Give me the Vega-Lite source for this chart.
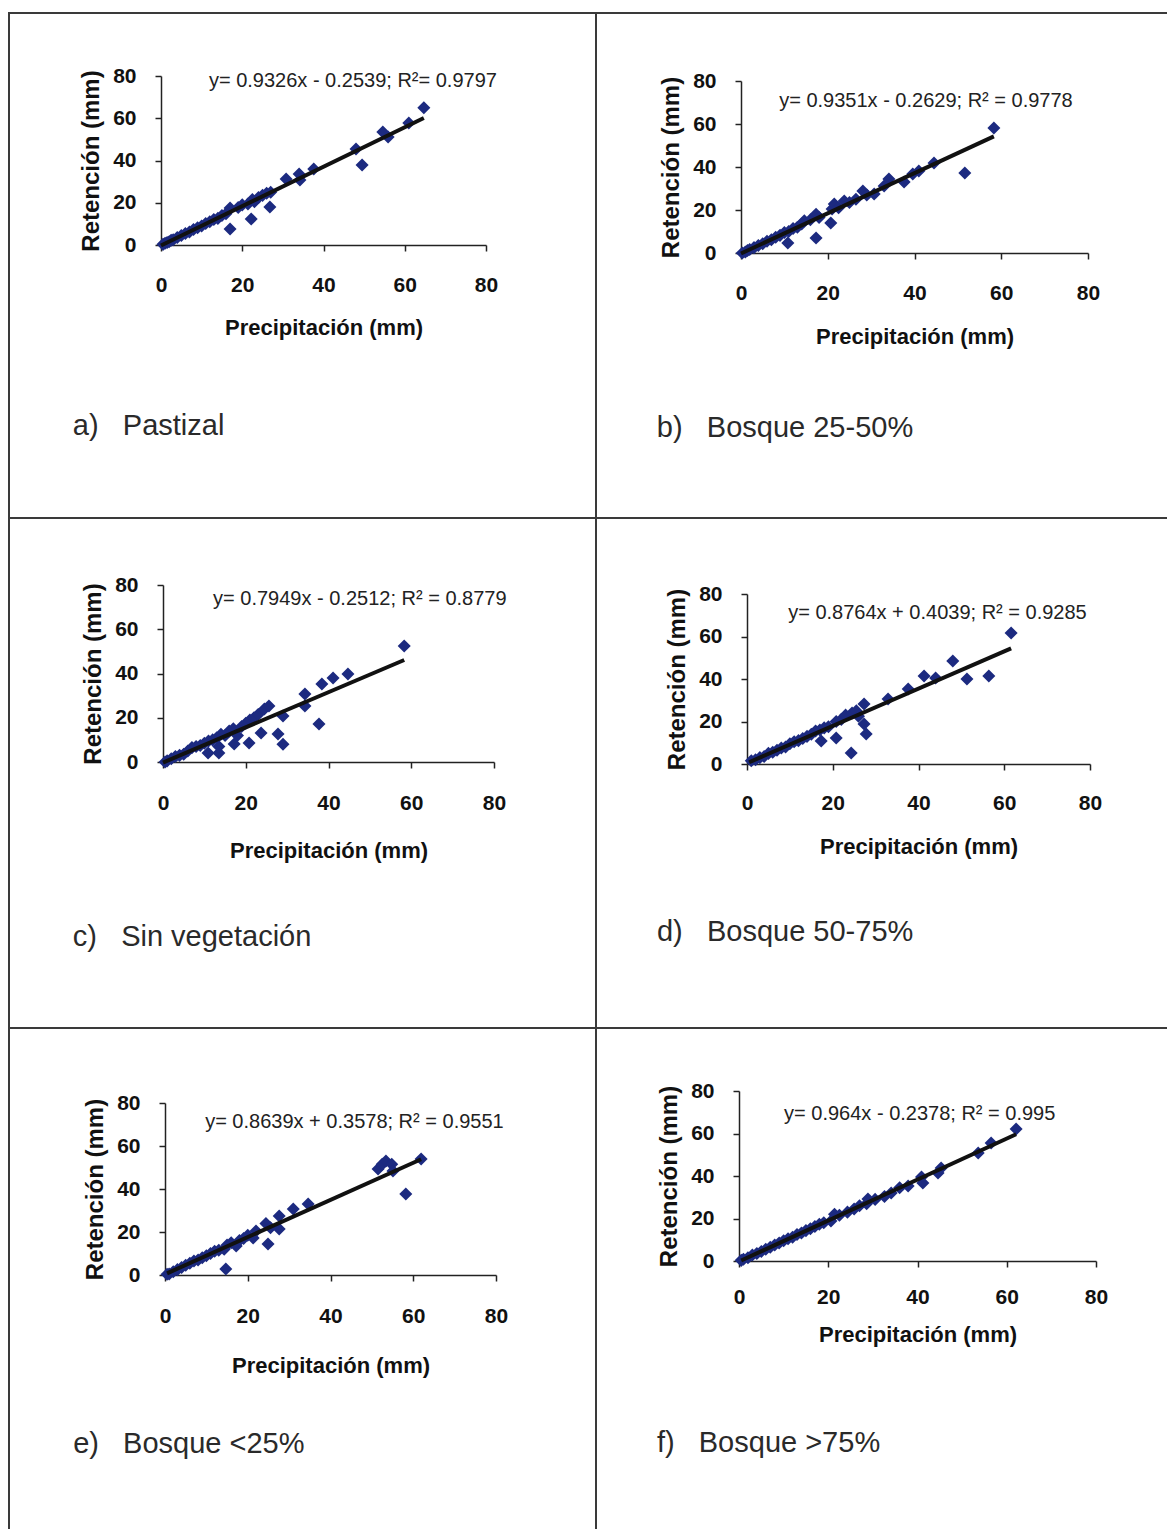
{
  "$schema": "https://vega.github.io/schema/vega-lite/v6.json",
  "padding": {"left": 8, "top": 12, "right": 0, "bottom": 0},
  "background": "white",
  "columns": 2,
  "spacing": 0,
  "bounds": "flush",
  "config": {
    "view": {"stroke": "#3a3a3a", "strokeWidth": 2},
    "axis": {"grid": false, "domainColor": "#222", "tickColor": "#222", "domainWidth": 1.5, "tickWidth": 1.5, "tickSize": 6,
      "labelFont": "Liberation Sans", "labelFontWeight": "bold", "labelFontSize": 21, "labelColor": "#111",
      "titleFont": "Liberation Sans", "titleFontWeight": "bold", "titleFontSize": 22, "titleColor": "#111",
      "labelFlush": false, "labelOverlap": false},
    "axisY": {"titleFontSize": 24},
    "point": {"shape": "diamond", "filled": true, "size": 170, "color": "#1c2a80", "opacity": 1},
    "line": {"color": "#111", "strokeWidth": 4},
    "text": {"font": "Liberation Sans", "color": "#222"}
  },
  "concat": [
    {
      "width": 587, "height": 505,
      "layer": [
        {"data": {"values": [
          {"P": 0.5, "R": 0.3}, {"P": 1, "R": 0.8}, {"P": 1.5, "R": 1.2}, {"P": 2, "R": 1.5}, {"P": 2.5, "R": 2.2}, {"P": 3, "R": 2.5},
          {"P": 4, "R": 3.6}, {"P": 5, "R": 4.5}, {"P": 6, "R": 5.4}, {"P": 7, "R": 6.2}, {"P": 8, "R": 7.3}, {"P": 9, "R": 8.2},
          {"P": 10, "R": 9}, {"P": 11, "R": 10.2}, {"P": 12, "R": 11}, {"P": 13, "R": 12.1}, {"P": 14, "R": 12.6}, {"P": 15, "R": 14},
          {"P": 16, "R": 14.8}, {"P": 17, "R": 17.5}, {"P": 17, "R": 7.6}, {"P": 19, "R": 17.8}, {"P": 20, "R": 19}, {"P": 21.4, "R": 19.4},
          {"P": 22.2, "R": 12.3}, {"P": 22.5, "R": 21.5}, {"P": 23, "R": 20.5}, {"P": 24, "R": 22.5}, {"P": 25, "R": 23.5}, {"P": 26, "R": 24.5},
          {"P": 26.8, "R": 18}, {"P": 27, "R": 25}, {"P": 30.8, "R": 31.2}, {"P": 34, "R": 33.6}, {"P": 34.2, "R": 30.8}, {"P": 37.6, "R": 36},
          {"P": 48, "R": 45.4}, {"P": 49.5, "R": 37.9}, {"P": 54.6, "R": 53.5}, {"P": 55.9, "R": 51.1}, {"P": 61, "R": 57.8}, {"P": 64.7, "R": 65}
        ]}, "mark": {"type": "point"},
          "encoding": {
            "x": {"field": "P", "type": "quantitative", "scale": {"domain": [0, 80], "range": [152, 477], "nice": false, "zero": false},
              "axis": {"title": "Precipitación (mm)", "values": [0, 20, 40, 60, 80], "offset": -273, "labelPadding": 23, "titlePadding": 22}},
            "y": {"field": "R", "type": "quantitative", "scale": {"domain": [0, 80], "range": [232, 63], "nice": false, "zero": false},
              "axis": {"title": "Retención (mm)", "values": [0, 20, 40, 60, 80], "offset": -152, "labelPadding": 19, "titlePadding": 9}}
          }},
        {"data": {"values": [{"P": 0, "R": -0.25}, {"P": 64.7, "R": 60.09}]}, "mark": {"type": "line"},
          "encoding": {"x": {"field": "P", "type": "quantitative", "title": "Precipitación (mm)"}, "y": {"field": "R", "type": "quantitative", "title": "Retención (mm)"}}},
        {"data": {"values": [{"eq": "y= 0.9326x - 0.2539; R²= 0.9797"}]},
          "mark": {"type": "text", "align": "left", "baseline": "middle", "fontSize": 20},
          "encoding": {"x": {"datum": 11.8, "type": "quantitative"}, "y": {"datum": 77.6, "type": "quantitative"}, "text": {"field": "eq"}}},
        {"data": {"values": [{"lab": "a)\u00a0\u00a0\u00a0Pastizal"}]},
          "mark": {"type": "text", "align": "left", "baseline": "middle", "fontSize": 29, "color": "#2a2a2a"},
          "encoding": {"x": {"datum": -21.7, "type": "quantitative"}, "y": {"datum": -85.7, "type": "quantitative"}, "text": {"field": "lab"}}}
      ]
    },
    {
      "width": 572, "height": 505,
      "layer": [
        {"data": {"values": [
          {"P": 0.3, "R": 0}, {"P": 1, "R": 0.5}, {"P": 1.5, "R": 1.2}, {"P": 2, "R": 1.6}, {"P": 3, "R": 2.5}, {"P": 4, "R": 3.5},
          {"P": 5, "R": 4.3}, {"P": 6, "R": 5.5}, {"P": 7, "R": 6.2}, {"P": 8, "R": 7.3}, {"P": 9, "R": 8.2}, {"P": 10, "R": 9.5},
          {"P": 10.8, "R": 4.7}, {"P": 11, "R": 10}, {"P": 12, "R": 11.4}, {"P": 13, "R": 12}, {"P": 14, "R": 13.5}, {"P": 14.6, "R": 15},
          {"P": 16, "R": 15.5}, {"P": 17.3, "R": 18}, {"P": 17.3, "R": 7}, {"P": 18, "R": 16.5}, {"P": 20.7, "R": 14}, {"P": 21, "R": 20.5},
          {"P": 21.5, "R": 22.8}, {"P": 22.5, "R": 21}, {"P": 23.8, "R": 24.2}, {"P": 25, "R": 23.5}, {"P": 26.5, "R": 25}, {"P": 28.1, "R": 28.8},
          {"P": 29, "R": 27}, {"P": 30.7, "R": 27.4}, {"P": 33, "R": 31.2}, {"P": 34.1, "R": 34.4}, {"P": 37.6, "R": 33}, {"P": 39.6, "R": 36.7},
          {"P": 41, "R": 38.1}, {"P": 44.5, "R": 41.9}, {"P": 51.6, "R": 37.2}, {"P": 58.3, "R": 58.1}
        ]}, "mark": {"type": "point"},
          "encoding": {
            "x": {"field": "P", "type": "quantitative", "scale": {"domain": [0, 80], "range": [145, 492], "nice": false, "zero": false},
              "axis": {"title": "Precipitación (mm)", "values": [0, 20, 40, 60, 80], "offset": -265, "labelPadding": 23, "titlePadding": 23}},
            "y": {"field": "R", "type": "quantitative", "scale": {"domain": [0, 80], "range": [240, 68], "nice": false, "zero": false},
              "axis": {"title": "Retención (mm)", "values": [0, 20, 40, 60, 80], "offset": -145, "labelPadding": 19, "titlePadding": 9}}
          }},
        {"data": {"values": [{"P": 0, "R": -0.26}, {"P": 58.3, "R": 54.25}]}, "mark": {"type": "line"},
          "encoding": {"x": {"field": "P", "type": "quantitative", "title": "Precipitación (mm)"}, "y": {"field": "R", "type": "quantitative", "title": "Retención (mm)"}}},
        {"data": {"values": [{"eq": "y= 0.9351x - 0.2629; R² = 0.9778"}]},
          "mark": {"type": "text", "align": "left", "baseline": "middle", "fontSize": 20},
          "encoding": {"x": {"datum": 8.8, "type": "quantitative"}, "y": {"datum": 70.7, "type": "quantitative"}, "text": {"field": "eq"}}},
        {"data": {"values": [{"lab": "b)\u00a0\u00a0\u00a0Bosque 25-50%"}]},
          "mark": {"type": "text", "align": "left", "baseline": "middle", "fontSize": 29, "color": "#2a2a2a"},
          "encoding": {"x": {"datum": -19.4, "type": "quantitative"}, "y": {"datum": -81.4, "type": "quantitative"}, "text": {"field": "lab"}}}
      ]
    },
    {
      "width": 587, "height": 510,
      "layer": [
        {"data": {"values": [
          {"P": 0.5, "R": 0}, {"P": 1, "R": 0.5}, {"P": 2, "R": 1.5}, {"P": 3, "R": 2.5}, {"P": 4, "R": 3}, {"P": 5, "R": 3.5},
          {"P": 6, "R": 5}, {"P": 7, "R": 6.5}, {"P": 8, "R": 7}, {"P": 9, "R": 7.5}, {"P": 10, "R": 8.5}, {"P": 10.9, "R": 4.1},
          {"P": 11, "R": 9.5}, {"P": 12, "R": 10}, {"P": 13, "R": 11}, {"P": 13.5, "R": 4.1}, {"P": 13.5, "R": 7}, {"P": 14, "R": 12.5},
          {"P": 15, "R": 12}, {"P": 16, "R": 14}, {"P": 17, "R": 15}, {"P": 17.2, "R": 8.1}, {"P": 18, "R": 12}, {"P": 19, "R": 16},
          {"P": 20, "R": 17.5}, {"P": 20.8, "R": 8.6}, {"P": 21, "R": 19}, {"P": 22, "R": 20}, {"P": 23, "R": 21.5}, {"P": 23.7, "R": 13.1},
          {"P": 24.5, "R": 24}, {"P": 25.6, "R": 25.3}, {"P": 27.8, "R": 12.7}, {"P": 29, "R": 20.8}, {"P": 29, "R": 8}, {"P": 34.3, "R": 30.7},
          {"P": 34.3, "R": 25.3}, {"P": 37.7, "R": 17.2}, {"P": 38.4, "R": 35.3}, {"P": 41.1, "R": 38}, {"P": 44.7, "R": 39.8}, {"P": 58.3, "R": 52.4}
        ]}, "mark": {"type": "point"},
          "encoding": {
            "x": {"field": "P", "type": "quantitative", "scale": {"domain": [0, 80], "range": [154, 485], "nice": false, "zero": false},
              "axis": {"title": "Precipitación (mm)", "values": [0, 20, 40, 60, 80], "offset": -266, "labelPadding": 24, "titlePadding": 27}},
            "y": {"field": "R", "type": "quantitative", "scale": {"domain": [0, 80], "range": [244, 67], "nice": false, "zero": false},
              "axis": {"title": "Retención (mm)", "values": [0, 20, 40, 60, 80], "offset": -154, "labelPadding": 19, "titlePadding": 9}}
          }},
        {"data": {"values": [{"P": 0, "R": -0.25}, {"P": 58.3, "R": 46.09}]}, "mark": {"type": "line"},
          "encoding": {"x": {"field": "P", "type": "quantitative", "title": "Precipitación (mm)"}, "y": {"field": "R", "type": "quantitative", "title": "Retención (mm)"}}},
        {"data": {"values": [{"eq": "y= 0.7949x - 0.2512; R² = 0.8779"}]},
          "mark": {"type": "text", "align": "left", "baseline": "middle", "fontSize": 20},
          "encoding": {"x": {"datum": 12.1, "type": "quantitative"}, "y": {"datum": 73.7, "type": "quantitative"}, "text": {"field": "eq"}}},
        {"data": {"values": [{"lab": "c)\u00a0\u00a0\u00a0Sin vegetación"}]},
          "mark": {"type": "text", "align": "left", "baseline": "middle", "fontSize": 29, "color": "#2a2a2a"},
          "encoding": {"x": {"datum": -21.8, "type": "quantitative"}, "y": {"datum": -79.1, "type": "quantitative"}, "text": {"field": "lab"}}}
      ]
    },
    {
      "width": 572, "height": 510,
      "layer": [
        {"data": {"values": [
          {"P": 1, "R": 1.5}, {"P": 2, "R": 2}, {"P": 3, "R": 3}, {"P": 4, "R": 3.5}, {"P": 5, "R": 5}, {"P": 6, "R": 5.5},
          {"P": 7, "R": 6.5}, {"P": 8, "R": 7.5}, {"P": 9, "R": 8}, {"P": 10, "R": 9.5}, {"P": 11, "R": 10.5}, {"P": 12, "R": 11},
          {"P": 13, "R": 12}, {"P": 14, "R": 13}, {"P": 15, "R": 14}, {"P": 16, "R": 15.5}, {"P": 17, "R": 16}, {"P": 17.3, "R": 10.8},
          {"P": 18, "R": 17}, {"P": 19, "R": 17.5}, {"P": 20.8, "R": 20}, {"P": 20.8, "R": 12.2}, {"P": 22, "R": 21}, {"P": 23, "R": 23},
          {"P": 24.3, "R": 5.2}, {"P": 24.5, "R": 24}, {"P": 25.5, "R": 25}, {"P": 26, "R": 22.5}, {"P": 27.3, "R": 28.2}, {"P": 27.3, "R": 18.8},
          {"P": 27.8, "R": 14.1}, {"P": 32.9, "R": 30.6}, {"P": 37.6, "R": 35.3}, {"P": 41.3, "R": 41.4}, {"P": 44, "R": 40.5}, {"P": 48, "R": 48.5},
          {"P": 51.3, "R": 40}, {"P": 56.4, "R": 41.4}, {"P": 61.6, "R": 61.6}
        ]}, "mark": {"type": "point"},
          "encoding": {
            "x": {"field": "P", "type": "quantitative", "scale": {"domain": [0, 80], "range": [151, 494], "nice": false, "zero": false},
              "axis": {"title": "Precipitación (mm)", "values": [0, 20, 40, 60, 80], "offset": -264, "labelPadding": 22, "titlePadding": 23}},
            "y": {"field": "R", "type": "quantitative", "scale": {"domain": [0, 80], "range": [246, 76], "nice": false, "zero": false},
              "axis": {"title": "Retención (mm)", "values": [0, 20, 40, 60, 80], "offset": -151, "labelPadding": 19, "titlePadding": 9}}
          }},
        {"data": {"values": [{"P": 0.5, "R": 0.84}, {"P": 61.6, "R": 54.39}]}, "mark": {"type": "line"},
          "encoding": {"x": {"field": "P", "type": "quantitative", "title": "Precipitación (mm)"}, "y": {"field": "R", "type": "quantitative", "title": "Retención (mm)"}}},
        {"data": {"values": [{"eq": "y= 0.8764x + 0.4039; R² = 0.9285"}]},
          "mark": {"type": "text", "align": "left", "baseline": "middle", "fontSize": 20},
          "encoding": {"x": {"datum": 9.6, "type": "quantitative"}, "y": {"datum": 71.1, "type": "quantitative"}, "text": {"field": "eq"}}},
        {"data": {"values": [{"lab": "d)\u00a0\u00a0\u00a0Bosque 50-75%"}]},
          "mark": {"type": "text", "align": "left", "baseline": "middle", "fontSize": 29, "color": "#2a2a2a"},
          "encoding": {"x": {"datum": -21, "type": "quantitative"}, "y": {"datum": -79.1, "type": "quantitative"}, "text": {"field": "lab"}}}
      ]
    },
    {
      "width": 587, "height": 502,
      "layer": [
        {"data": {"values": [
          {"P": 0.5, "R": 0.3}, {"P": 1, "R": 0.5}, {"P": 2, "R": 1.5}, {"P": 3, "R": 2.5}, {"P": 4, "R": 3.5}, {"P": 5, "R": 4.5},
          {"P": 6, "R": 5.5}, {"P": 7, "R": 6.5}, {"P": 8, "R": 7}, {"P": 9, "R": 8}, {"P": 10, "R": 9}, {"P": 11, "R": 10},
          {"P": 12, "R": 11}, {"P": 13, "R": 11.5}, {"P": 14.3, "R": 12}, {"P": 14.7, "R": 2.8}, {"P": 15, "R": 14}, {"P": 16, "R": 15},
          {"P": 17.2, "R": 13.5}, {"P": 18, "R": 16}, {"P": 19, "R": 17}, {"P": 20, "R": 18.5}, {"P": 21.3, "R": 17.2}, {"P": 22, "R": 20.5},
          {"P": 24.4, "R": 24}, {"P": 24.9, "R": 14.4}, {"P": 25.5, "R": 22}, {"P": 27.6, "R": 27.4}, {"P": 27.6, "R": 21.4}, {"P": 31, "R": 30.7},
          {"P": 34.6, "R": 33}, {"P": 51.5, "R": 49.3}, {"P": 52.5, "R": 51.5}, {"P": 53.4, "R": 53}, {"P": 54.8, "R": 51.5}, {"P": 55.1, "R": 48.4},
          {"P": 58.2, "R": 37.7}, {"P": 61.9, "R": 54}
        ]}, "mark": {"type": "point"},
          "encoding": {
            "x": {"field": "P", "type": "quantitative", "scale": {"domain": [0, 80], "range": [156, 487], "nice": false, "zero": false},
              "axis": {"title": "Precipitación (mm)", "values": [0, 20, 40, 60, 80], "offset": -255, "labelPadding": 24, "titlePadding": 29}},
            "y": {"field": "R", "type": "quantitative", "scale": {"domain": [0, 80], "range": [247, 75], "nice": false, "zero": false},
              "axis": {"title": "Retención (mm)", "values": [0, 20, 40, 60, 80], "offset": -156, "labelPadding": 19, "titlePadding": 9}}
          }},
        {"data": {"values": [{"P": 0.5, "R": 0.79}, {"P": 61.9, "R": 53.83}]}, "mark": {"type": "line"},
          "encoding": {"x": {"field": "P", "type": "quantitative", "title": "Precipitación (mm)"}, "y": {"field": "R", "type": "quantitative", "title": "Retención (mm)"}}},
        {"data": {"values": [{"eq": "y= 0.8639x + 0.3578; R² = 0.9551"}]},
          "mark": {"type": "text", "align": "left", "baseline": "middle", "fontSize": 20},
          "encoding": {"x": {"datum": 9.7, "type": "quantitative"}, "y": {"datum": 71.2, "type": "quantitative"}, "text": {"field": "eq"}}},
        {"data": {"values": [{"lab": "e)\u00a0\u00a0\u00a0Bosque <25%"}]},
          "mark": {"type": "text", "align": "left", "baseline": "middle", "fontSize": 29, "color": "#2a2a2a"},
          "encoding": {"x": {"datum": -22.2, "type": "quantitative"}, "y": {"datum": -78.6, "type": "quantitative"}, "text": {"field": "lab"}}}
      ]
    },
    {
      "width": 572, "height": 502,
      "layer": [
        {"data": {"values": [
          {"P": 0.5, "R": 0.3}, {"P": 1, "R": 0.8}, {"P": 2, "R": 1.5}, {"P": 3, "R": 2.8}, {"P": 4, "R": 3.5}, {"P": 5, "R": 4.5},
          {"P": 6, "R": 5.5}, {"P": 7, "R": 6.5}, {"P": 8, "R": 7.5}, {"P": 9, "R": 8.5}, {"P": 10, "R": 9.5}, {"P": 11, "R": 10.5},
          {"P": 12, "R": 11.2}, {"P": 13, "R": 12.5}, {"P": 14, "R": 13.2}, {"P": 15, "R": 14.3}, {"P": 16, "R": 15.2}, {"P": 17, "R": 16.2},
          {"P": 18, "R": 17.3}, {"P": 19, "R": 18}, {"P": 20.6, "R": 18.8}, {"P": 21.4, "R": 22}, {"P": 22.5, "R": 21.5}, {"P": 24.3, "R": 23},
          {"P": 25.8, "R": 24.5}, {"P": 27, "R": 26}, {"P": 28.6, "R": 27}, {"P": 28.9, "R": 29.2}, {"P": 30.5, "R": 29}, {"P": 32.6, "R": 30.4},
          {"P": 34.1, "R": 32}, {"P": 36, "R": 34.5}, {"P": 37.9, "R": 35.3}, {"P": 40.9, "R": 39.5}, {"P": 41.2, "R": 36.7}, {"P": 44.6, "R": 41.4},
          {"P": 45.3, "R": 43.8}, {"P": 53.6, "R": 50.8}, {"P": 56.5, "R": 55.5}, {"P": 62.1, "R": 62.1}
        ]}, "mark": {"type": "point"},
          "encoding": {
            "x": {"field": "P", "type": "quantitative", "scale": {"domain": [0, 80], "range": [143, 500], "nice": false, "zero": false},
              "axis": {"title": "Precipitación (mm)", "values": [0, 20, 40, 60, 80], "offset": -269, "labelPadding": 19, "titlePadding": 17}},
            "y": {"field": "R", "type": "quantitative", "scale": {"domain": [0, 80], "range": [233, 63], "nice": false, "zero": false},
              "axis": {"title": "Retención (mm)", "values": [0, 20, 40, 60, 80], "offset": -143, "labelPadding": 19, "titlePadding": 9}}
          }},
        {"data": {"values": [{"P": 0.5, "R": 0.24}, {"P": 62.1, "R": 59.63}]}, "mark": {"type": "line"},
          "encoding": {"x": {"field": "P", "type": "quantitative", "title": "Precipitación (mm)"}, "y": {"field": "R", "type": "quantitative", "title": "Retención (mm)"}}},
        {"data": {"values": [{"eq": "y= 0.964x - 0.2378; R² = 0.995"}]},
          "mark": {"type": "text", "align": "left", "baseline": "middle", "fontSize": 20},
          "encoding": {"x": {"datum": 10.1, "type": "quantitative"}, "y": {"datum": 69.2, "type": "quantitative"}, "text": {"field": "eq"}}},
        {"data": {"values": [{"lab": "f)\u00a0\u00a0\u00a0Bosque >75%"}]},
          "mark": {"type": "text", "align": "left", "baseline": "middle", "fontSize": 29, "color": "#2a2a2a"},
          "encoding": {"x": {"datum": -18.4, "type": "quantitative"}, "y": {"datum": -85.6, "type": "quantitative"}, "text": {"field": "lab"}}}
      ]
    }
  ]
}
